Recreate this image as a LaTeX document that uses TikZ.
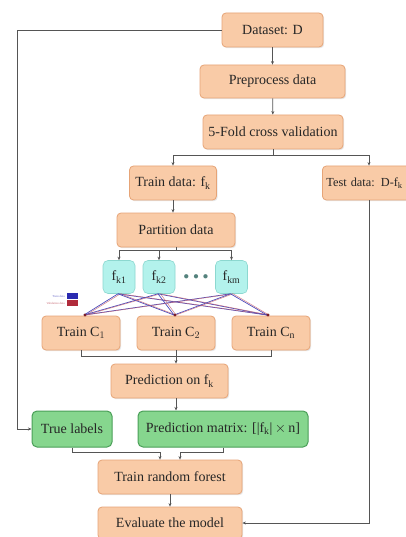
\documentclass[tikz,border=0pt]{standalone}
\usepackage{fontspec}
\setmainfont{Liberation Serif}
\usetikzlibrary{arrows.meta,shadows,calc}
\definecolor{orfill}{HTML}{F9CBA7}
\definecolor{ordraw}{HTML}{E6A477}
\definecolor{grfill}{HTML}{86D68E}
\definecolor{grdraw}{HTML}{4A9F58}
\definecolor{cyfill}{HTML}{B3F2EC}
\definecolor{cydraw}{HTML}{8CD8D0}
\definecolor{ln}{HTML}{555555}
\definecolor{bl}{HTML}{2B2BB0}
\definecolor{rd}{HTML}{B02B3B}
\tikzset{
  obox/.style={draw=ordraw, fill=orfill, rounded corners=4pt, line width=0.8pt,
    drop shadow={shadow xshift=1.2pt, shadow yshift=-1.2pt, fill=black!18},
    font=\fontsize{14}{16}\selectfont, inner sep=2pt, text=black!85},
  gbox/.style={draw=grdraw, fill=grfill, rounded corners=5pt, line width=1pt,
    font=\fontsize{14}{16}\selectfont, inner sep=2pt, text=black!85},
  cbox/.style={draw=cydraw, fill=cyfill, rounded corners=5pt, line width=0.6pt,
    font=\fontsize{14}{16}\selectfont, inner sep=1pt, text=black!85,
    minimum width=32pt, minimum height=33pt},
  conn/.style={draw=ln, line width=0.8pt},
  arr/.style={conn, -{Stealth[length=3.5pt,width=3pt]}},
  leg/.style={font=\fontsize{3}{3.5}\selectfont, text=bl!70, inner sep=0pt, anchor=east}
}
\begin{document}
\begin{tikzpicture}[x=1pt,y=-1pt]
\useasboundingbox (0,0) rectangle (406,537);
\fill[white] (0,0) rectangle (406,537);

\node[obox, minimum width=101pt, minimum height=34pt] (ds) at (272.5,30) {Dataset: D};
\node[obox, minimum width=145pt, minimum height=33pt] (pp) at (272.5,81.5) {Preprocess data};
\node[obox, minimum width=140pt, minimum height=34pt] (cv) at (273,132) {5-Fold cross validation};
\node[obox, minimum width=87pt, minimum height=34pt] (tr) at (173,183) {Train data: f$_{\mathrm{k}}$};
\node[obox, minimum width=100pt, minimum height=34pt, anchor=west, align=left, text width=92pt,
  font=\fontsize{12.3}{14}\selectfont] (te) at (322,183) {Test data: D-f$_{\mathrm{k}}$};
\node[obox, minimum width=118pt, minimum height=34pt] (pa) at (176,230) {Partition data};

\node[cbox] (f1) at (119,277) {f$_{\mathrm{k1}}$};
\node[cbox] (f2) at (159,277) {f$_{\mathrm{k2}}$};
\node[cbox] (fm) at (231.5,277) {f$_{\mathrm{km}}$};
\node[font=\fontsize{11}{11}\selectfont, text=cydraw!60!black, inner sep=0pt] (dots) at (196,277) {$\bullet\,\bullet\,\bullet$};

\node[obox, minimum width=78pt, minimum height=34pt] (c1) at (81,333) {Train C$_1$};
\node[obox, minimum width=78pt, minimum height=34pt] (c2) at (176,333) {Train C$_2$};
\node[obox, minimum width=78pt, minimum height=34pt] (cn) at (271,333) {Train C$_{\mathrm{n}}$};

\node[obox, minimum width=117pt, minimum height=34pt] (pr) at (169.5,381) {Prediction on f$_{\mathrm{k}}$};
\node[gbox, minimum width=80pt, minimum height=36pt] (tl) at (72,429) {True labels};
\node[gbox, minimum width=170pt, minimum height=36pt] (pm) at (223,429) {Prediction matrix: [|f$_{\mathrm{k}}$|$\,\times\,$n]};
\node[obox, minimum width=144pt, minimum height=34pt] (rf) at (170,477) {Train random forest};
\node[obox, minimum width=144pt, minimum height=32pt] (ev) at (170,523) {Evaluate the model};

% legend
\node[fill=bl, minimum width=11pt, minimum height=6pt, inner sep=0pt] (lb) at (72.5,296) {};
\node[fill=rd, minimum width=11pt, minimum height=6pt, inner sep=0pt] (lr) at (72.5,303) {};
\node[leg] (lbt) at ($(lb.west)+(-2,0)$) {Train data};
\node[leg, text=rd!70] (lrt) at ($(lr.west)+(-2,0)$) {Validation data};

% main flow
\draw[arr] (ds) -- (pp);
\draw[arr] (pp) -- (cv);
\coordinate (sp) at ($(cv.south)+(0,6)$);
\draw[conn] (cv.south) -- (sp);
\draw[arr] (sp) -| (tr.north);
\draw[arr] (sp) -| (369,0 |- te.north) coordinate (tetop);
\draw[arr] (tr) -- (tr |- pa.north);

% partition to folds
\coordinate (pb) at (pa.south |- 0,250);
\draw[conn] (pa.south) -- (pb);
\draw[conn] (f1.north |- pb) -- (fm.north |- pb);
\draw[arr] (f1.north |- pb) -- (f1.north);
\draw[arr] (f2.north |- pb) -- (f2.north);
\draw[arr] (fm.north |- pb) -- (fm.north);

% folds to classifiers
\coordinate (t1) at (85,315);
\coordinate (t2) at (175,315);
\coordinate (t3) at (268,315);
\foreach \f in {f1,f2,fm}{
  \foreach \t in {t1,t2,t3}{
    \draw[bl!85, line width=0.7pt] ([xshift=-1pt]\f.south) -- ([xshift=-1pt]\t);
    \draw[rd!75, line width=0.5pt, opacity=0.8] ([xshift=1.5pt]\f.south) -- ([xshift=1pt]\t);
  }
}
\foreach \t in {t1,t2,t3}{ \fill[rd!70!black] (\t) circle (1.6pt); }

% classifiers to prediction
\coordinate (br) at (c2.south |- 0,356);
\draw[conn] (c1.south) -- (c1.south |- br) -- (cn.south |- br) -- (cn.south);
\draw[conn] (c2.south) -- (br);
\draw[arr] (br) -- (br |- pr.north);
\draw[arr] (pr.south -| 176,0) -- (176,0 |- pm.north);

% to random forest
\draw[arr] (tl.south) |- (160,452) -- (160,0 |- rf.north);
\draw[arr] (pm.south) |- (180,452) -- (180,0 |- rf.north);
\draw[arr] (rf) -- (ev);

% test data to evaluate
\draw[arr] (te.south -| 369,0) |- (ev.east);
% dataset to true labels
\draw[arr] (ds.west) -| (17,429) -- (tl.west);
\end{tikzpicture}
\end{document}
